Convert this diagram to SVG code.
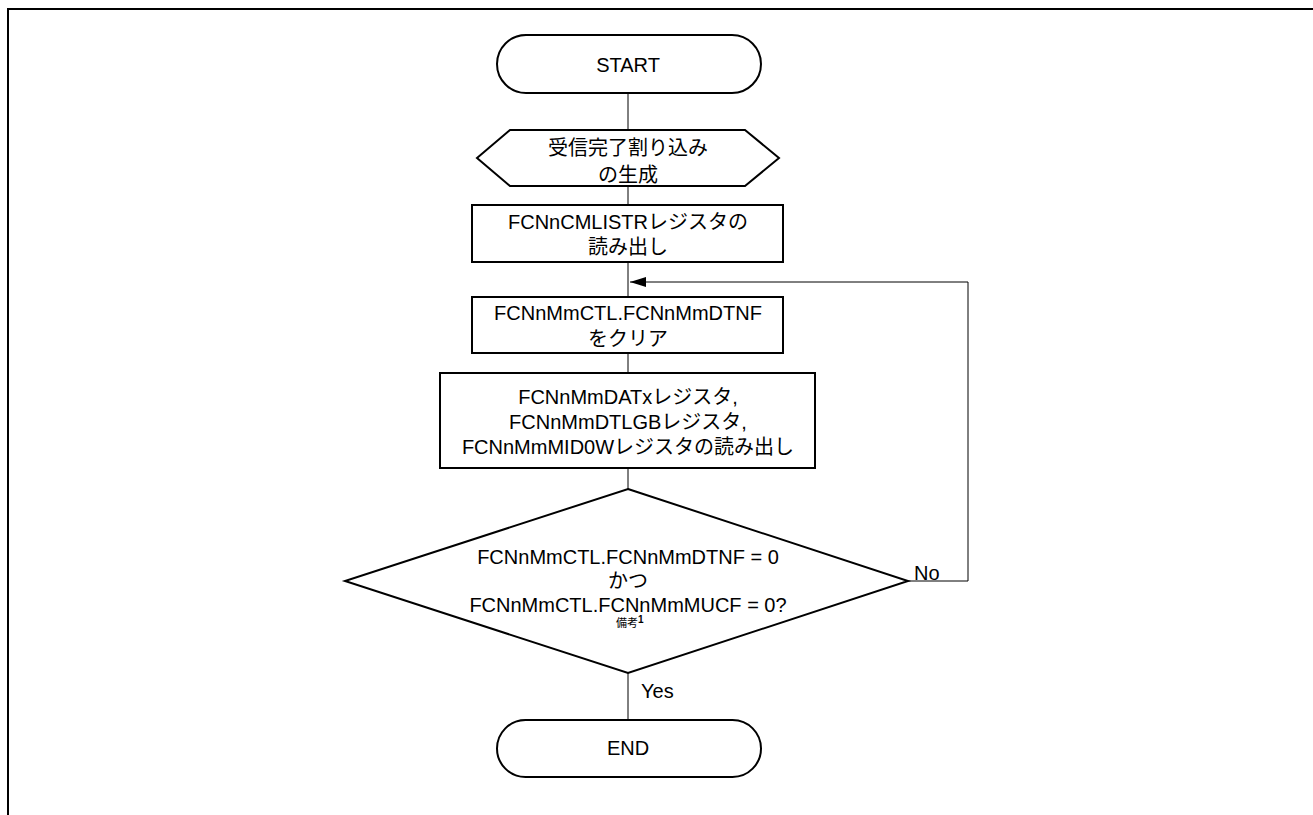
<svg xmlns="http://www.w3.org/2000/svg" width="1313" height="815" viewBox="0 0 1313 815">
<defs>
<style>
.n{fill:#fff;stroke:#000;stroke-width:2}
.c{fill:none;stroke:#000;stroke-width:1}
.t{font-family:"Liberation Sans","Noto Sans CJK JP",sans-serif;font-size:20px;fill:#000;text-anchor:middle}
.l{font-family:"Liberation Sans","Noto Sans CJK JP",sans-serif;font-size:20px;fill:#000}
.s{font-family:"Liberation Sans","Noto Sans CJK JP",sans-serif;font-size:11px;fill:#000}
</style>
<marker id="ah" markerWidth="16" markerHeight="10" refX="16" refY="5" orient="auto" markerUnits="userSpaceOnUse">
<path d="M0,0 L16,5 L0,10 Z" fill="#000"/>
</marker>
</defs>
<rect width="1313" height="815" fill="#fff"/>
<path d="M8,815 V9 H1313" fill="none" stroke="#000" stroke-width="2"/>
<g id="connectors">
<path class="c" d="M628,93 V130"/>
<path class="c" d="M628,186 V205"/>
<path class="c" d="M628,262 V297"/>
<path class="c" d="M628,353 V373"/>
<path class="c" d="M628,468 V489"/>
<path class="c" d="M908,581 H968 V282 H630" marker-end="url(#ah)"/>
<path class="c" d="M628,673 V720"/>
<text class="l" x="914" y="580">No</text>
<text class="l" x="641" y="698">Yes</text>
</g>
<g id="start">
<rect class="n" x="497" y="35" width="264" height="58" rx="29"/>
<text class="t" x="628" y="72">START</text>
</g>
<g id="interrupt">
<polygon class="n" points="477,158 510,130 745,130 779,158 745,186 510,186"/>
<text class="t" x="628" y="155">受信完了割り込み</text>
<text class="t" x="628" y="182">の生成</text>
</g>
<g id="read-cmlistr">
<rect class="n" x="472" y="205" width="311" height="57"/>
<text class="t" x="628" y="229">FCNnCMLISTRレジスタの</text>
<text class="t" x="628" y="254">読み出し</text>
</g>
<g id="clear-dtnf">
<rect class="n" x="472" y="297" width="311" height="56"/>
<text class="t" x="628" y="320">FCNnMmCTL.FCNnMmDTNF</text>
<text class="t" x="628" y="346">をクリア</text>
</g>
<g id="read-regs">
<rect class="n" x="440" y="373" width="375" height="95"/>
<text class="t" x="628" y="404">FCNnMmDATxレジスタ,</text>
<text class="t" x="628" y="429">FCNnMmDTLGBレジスタ,</text>
<text class="t" x="628" y="454">FCNnMmMID0Wレジスタの読み出し</text>
</g>
<g id="decision">
<polygon class="n" points="628,489 908,581 628,673 345,581"/>
<text class="t" x="628" y="564">FCNnMmCTL.FCNnMmDTNF = 0</text>
<text class="t" x="628" y="588">かつ</text>
<text class="t" x="628" y="612">FCNnMmCTL.FCNnMmMUCF = 0?</text>
<text class="s" x="616" y="627">備考<tspan font-size="10" font-weight="bold" dy="-4">1</tspan></text>
</g>
<g id="end">
<rect class="n" x="497" y="720" width="264" height="57" rx="28.5"/>
<text class="t" x="628" y="755">END</text>
</g>
</svg>
